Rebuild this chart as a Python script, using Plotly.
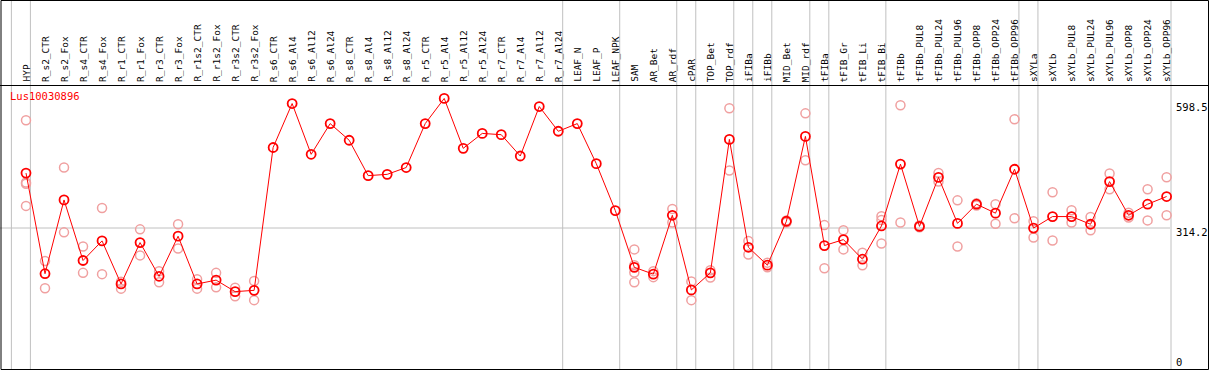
import plotly.graph_objects as go

W, H = 1209, 370

categories = ["HYP", "R_s2_CTR", "R_s2_Fox", "R_s4_CTR", "R_s4_Fox", "R_r1_CTR", "R_r1_Fox",
              "R_r3_CTR", "R_r3_Fox", "R_r1s2_CTR", "R_r1s2_Fox", "R_r3s2_CTR", "R_r3s2_Fox",
              "R_s6_CTR", "R_s6_Al4", "R_s6_Al12", "R_s6_Al24", "R_s8_CTR", "R_s8_Al4",
              "R_s8_Al12", "R_s8_Al24", "R_r5_CTR", "R_r5_Al4", "R_r5_Al12", "R_r5_Al24",
              "R_r7_CTR", "R_r7_Al4", "R_r7_Al12", "R_r7_Al24", "LEAF_N", "LEAF_P", "LEAF_NPK",
              "SAM", "AR_Bet", "AR_rdf", "cPAR", "TOP_Bet", "TOP_rdf", "iFIBa", "iFIBb",
              "MID_Bet", "MID_rdf", "tFIBa", "tFIB_Gr", "tFIB_Li", "tFIB_Bi", "tFIBb",
              "tFIBb_PUL8", "tFIBb_PUL24", "tFIBb_PUL96", "tFIBb_OPP8", "tFIBb_OPP24",
              "tFIBb_OPP96", "sXYLa", "sXYLb", "sXYLb_PUL8", "sXYLb_PUL24", "sXYLb_PUL96",
              "sXYLb_OPP8", "sXYLb_OPP24", "sXYLb_OPP96"]

mean_values = [443, 207, 380, 238, 284, 183, 280, 201, 295, 183, 192, 165, 168,
               503, 606, 487, 559, 520, 437, 440, 456, 559, 618, 501, 536, 533, 483, 599, 541,
               559, 465, 355, 222, 206, 344, 169, 209, 522, 269, 227, 330, 529, 273, 287, 241,
               319, 464, 318, 433, 325, 370, 349, 452, 314, 341, 341, 323, 423, 344, 370, 388]

replicates = [[567, 421, 418, 366], [237, 173], [456, 304], [271, 209], [361, 206], [188, 172],
              [311, 250], [213, 187], [323, 266], [194, 172], [209, 175], [174, 154], [190, 145],
              [], [], [], [], [], [], [], [], [], [], [], [], [], [], [], [], [], [], [],
              [264, 227, 210, 187], [213, 199], [359, 327], [189, 145], [215, 198], [595, 449],
              [284, 252], [233, 222], [332, 327], [583, 473], [321, 220], [309, 264], [256, 227],
              [342, 333, 278], [602, 327], [320, 316], [443, 423], [379, 271], [372, 367],
              [370, 324], [569, 337], [330, 292], [398, 285], [356, 327], [340, 309], [442, 405],
              [350, 339], [405, 332], [433, 344]]

group_ends = [-1, 0, 28, 31, 34, 35, 37, 38, 39, 41, 42, 45, 52, 53, 60]
ytick_values = [598.5, 314.2, 0]
ytick_labels = ["598.5", "314.2", "0"]
gene_label = "Lus10030896"

# pixel geometry
X0PX, XSTEP = 26.0, 19.01
Y0PX, YPPU = 362.0, 0.42648
xmin = -X0PX / XSTEP
xmax = (W - X0PX) / XSTEP
ymax = Y0PX / YPPU
ymin = ymax - H / YPPU


def px(x):
    return x / W


def py(y):
    return 1 - y / H


xs = list(range(len(categories)))
rx, ry = [], []
for i, reps in enumerate(replicates):
    for v in reps:
        rx.append(i)
        ry.append(v)

fig = go.Figure()
fig.add_trace(go.Scatter(x=rx, y=ry, mode="markers",
                         marker=dict(symbol="circle-open", size=9, color="#F0A0A0",
                                     line=dict(width=1.5, color="#F0A0A0")),
                         hoverinfo="skip", showlegend=False))
fig.add_trace(go.Scatter(x=xs, y=mean_values, mode="lines+markers",
                         line=dict(color="#FF0000", width=1),
                         marker=dict(symbol="circle-open", size=9, color="#FF0000",
                                     line=dict(width=1.8, color="#FF0000")),
                         text=categories, showlegend=False))

shapes = []
grid = "#C0C0C0"
off = 4.4 / XSTEP
for g in group_ends:
    shapes.append(dict(type="line", xref="x", yref="paper", x0=g + off, x1=g + off,
                       y0=0, y1=1, line=dict(color=grid, width=1), layer="below"))
# horizontal gridline
shapes.append(dict(type="line", xref="paper", yref="y", x0=0, x1=px(1170),
                   y0=314.2, y1=314.2, line=dict(color=grid, width=1), layer="below"))
# header separator
shapes.append(dict(type="line", xref="paper", yref="paper", x0=0, x1=px(1208),
                   y0=py(85.5), y1=py(85.5), line=dict(color="black", width=1)))
# outer frame
shapes.append(dict(type="rect", xref="paper", yref="paper", x0=px(1), x1=px(1208.5),
                   y0=py(369.5), y1=py(0.5), line=dict(color="black", width=1)))

annotations = []
for i, c in enumerate(categories):
    annotations.append(dict(x=i, xref="x", y=py(83), yref="paper", text=c, showarrow=False,
                            textangle=-90, xanchor="center", yanchor="bottom",
                            font=dict(family="DejaVu Sans Mono", size=9.5, color="black"),
                            borderpad=0))
annotations.append(dict(x=px(8), y=py(96), xref="paper", yref="paper", text=gene_label,
                        showarrow=False, xanchor="left", yanchor="middle",
                        font=dict(family="DejaVu Sans Mono", size=10.5, color="#FF0000")))
shifts = [0, -4, 0]
for v, t, s in zip(ytick_values, ytick_labels, shifts):
    annotations.append(dict(x=px(1174), xref="paper", y=v, yref="y", text=t, showarrow=False,
                            xanchor="left", yanchor="middle", yshift=s,
                            font=dict(family="DejaVu Sans Mono", size=10.5, color="black")))

fig.update_layout(
    width=W, height=H, margin=dict(l=0, r=0, t=0, b=0),
    paper_bgcolor="white", plot_bgcolor="white",
    xaxis=dict(range=[xmin, xmax], visible=False, showgrid=False, zeroline=False),
    yaxis=dict(range=[ymin, ymax], visible=False, showgrid=False, zeroline=False),
    shapes=shapes, annotations=annotations, showlegend=False,
)
fig.write_html("out.html", config={"displayModeBar": False},
               post_script="document.body.style.margin='0px';document.body.style.overflow='hidden';")
